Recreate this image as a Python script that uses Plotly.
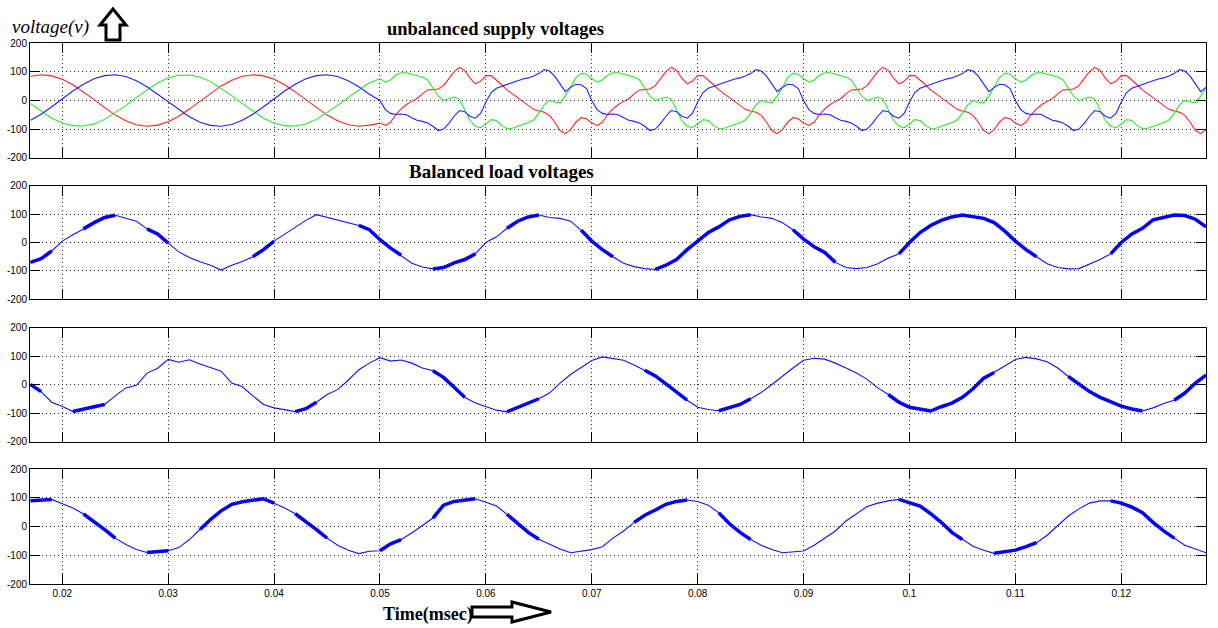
import numpy as np
import plotly.graph_objects as go

W, H = 1218, 628

# ---------------- time bases ----------------
T_BAL = np.round(np.arange(0.017, 0.0495, 0.001), 4)      # 0.017 .. 0.049 (33)
T_UNB = np.round(np.arange(0.050, 0.12825, 0.0005), 4)    # 0.050 .. 0.128 (157)
T_LOAD = np.round(np.arange(0.017, 0.12805, 0.001), 4)    # 0.017 .. 0.128 (112)

# ---------------- top plot: supply voltages ----------------
RED_BAL = [85, 90, 86, 74, 55, 30, 3, -25, -51, -71,
           -85, -90, -86, -74, -55, -30, -3, 25, 51, 71,
           85, 90, 86, 74, 55, 30, 3, -25, -51, -71,
           -85, -90, -86]
BLUE_BAL = [-69, -48, -22, 6, 33, 57, 76, 87, 90, 84,
            69, 48, 22, -6, -33, -57, -76, -87, -90, -84,
            -69, -48, -22, 6, 33, 57, 76, 87, 90, 84,
            69, 48, 22]
GREEN_BAL = [-11, -38, -62, -79, -88, -89, -82, -66, -43, -17,
             11, 38, 62, 79, 88, 89, 82, 66, 43, 17,
             -11, -38, -62, -79, -88, -89, -82, -66, -43, -17,
             11, 38, 62]

RED_UNB = [
    -79, -87, -76, -49, -29, -14, -3, 6, 23, 37, 38, 40, 52, 76, 101, 116, 105, 78, 58, 67,
    87, 87, 72, 55, 37, 23, 9, -3, -17, -31, -37, -41, -52, -76, -105, -116, -102, -76, -60, -64,
    -79, -87, -76, -49, -29, -14, -3, 6, 23, 37, 38, 40, 52, 76, 101, 116, 105, 78, 58, 67,
    87, 87, 72, 55, 37, 23, 9, -3, -17, -31, -37, -41, -52, -76, -105, -116, -102, -76, -60, -64,
    -79, -87, -76, -49, -29, -14, -3, 6, 23, 37, 38, 40, 52, 76, 101, 116, 105, 78, 58, 67,
    87, 87, 72, 55, 37, 23, 9, -3, -17, -31, -37, -41, -52, -76, -105, -116, -102, -76, -60, -64,
    -79, -87, -76, -49, -29, -14, -3, 6, 23, 37, 38, 40, 52, 76, 101, 116, 105, 78, 58, 67,
    87, 87, 72, 55, 37, 23, 9, -3, -17, -31, -37, -41, -52, -76, -105, -116, -102,
]
BLUE_UNB = [
    0, -32, -45, -49, -47, -50, -60, -69, -73, -79, -90, -105, -100, -80, -55, -35, -39, -55, -62, -45,
    -5, 28, 43, 50, 57, 62, 69, 75, 79, 86, 94, 108, 103, 85, 57, 31, 46, 57, 55, 42,
    0, -32, -45, -49, -47, -50, -60, -69, -73, -79, -90, -105, -100, -80, -55, -35, -39, -55, -62, -45,
    -5, 28, 43, 50, 57, 62, 69, 75, 79, 86, 94, 108, 103, 85, 57, 31, 46, 57, 55, 42,
    0, -32, -45, -49, -47, -50, -60, -69, -73, -79, -90, -105, -100, -80, -55, -35, -39, -55, -62, -45,
    -5, 28, 43, 50, 57, 62, 69, 75, 79, 86, 94, 108, 103, 85, 57, 31, 46, 57, 55, 42,
    0, -32, -45, -49, -47, -50, -60, -69, -73, -79, -90, -105, -100, -80, -55, -35, -39, -55, -62, -45,
    -5, 28, 43, 50, 57, 62, 69, 75, 79, 86, 94, 108, 103, 85, 57, 31, 46,
]
GREEN_UNB = [
    76, 64, 72, 88, 97, 97, 92, 88, 82, 72, 45, 15, 0, 5, 12, 5, -30, -70, -90, -95,
    -82, -67, -70, -88, -98, -97, -90, -83, -78, -68, -45, -15, 0, -5, -8, 15, 45, 80, 95, 92,
    76, 64, 72, 88, 97, 97, 92, 88, 82, 72, 45, 15, 0, 5, 12, 5, -30, -70, -90, -95,
    -82, -67, -70, -88, -98, -97, -90, -83, -78, -68, -45, -15, 0, -5, -8, 15, 45, 80, 95, 92,
    76, 64, 72, 88, 97, 97, 92, 88, 82, 72, 45, 15, 0, 5, 12, 5, -30, -70, -90, -95,
    -82, -67, -70, -88, -98, -97, -90, -83, -78, -68, -45, -15, 0, -5, -8, 15, 45, 80, 95, 92,
    76, 64, 72, 88, 97, 97, 92, 88, 82, 72, 45, 15, 0, 5, 12, 5, -30, -70, -90, -95,
    -82, -67, -70, -88, -98, -97, -90, -83, -78, -68, -45, -15, 0, -5, -8, 15, 45,
]

# ---------------- balanced load voltages ----------------
LOAD_A = [-70, -57, -30, 5, 27, 48, 70, 88, 96, 86,
          75, 48, 30, -2, -33, -53, -68, -80, -97, -80,
          -67, -50, -25, 5, 30, 55, 78, 98, 88, 80,
          70, 60, 45, 10, -20, -45, -73, -86, -93, -88,
          -72, -60, -40, 0, 20, 50, 75, 90, 97, 88,
          85, 75, 43, 5, -25, -50, -73, -85, -92, -95,
          -80, -60, -25, 5, 35, 55, 80, 92, 98, 90,
          85, 70, 45, 12, -15, -35, -70, -88, -92, -88,
          -75, -55, -40, 0, 35, 60, 78, 90, 97, 92,
          85, 70, 40, 5, -25, -50, -75, -88, -93, -92,
          -75, -60, -40, 0, 30, 50, 80, 90, 97, 95,
          82, 55]
LOAD_B = [0, -25, -62, -77, -95, -88, -78, -70, -40, -12,
          -3, 40, 57, 88, 78, 87, 72, 60, 47, 5,
          -8, -40, -70, -82, -88, -95, -85, -62, -35, -18,
          15, 52, 75, 94, 82, 86, 75, 58, 48, 25,
          -10, -45, -65, -77, -90, -96, -80, -65, -50, -30,
          5, 35, 60, 84, 97, 92, 85, 68, 50, 30,
          2, -27, -55, -80, -88, -92, -80, -70, -50, -28,
          0, 30, 58, 85, 92, 89, 75, 58, 40, 18,
          -12, -35, -62, -80, -88, -93, -78, -65, -45, -15,
          22, 42, 65, 88, 95, 90, 80, 58, 28, 3,
          -25, -45, -62, -76, -86, -93, -82, -67, -55, -30,
          5, 33]
LOAD_C = [90, 92, 95, 80, 65, 44, 18, -10, -40, -62,
          -80, -90, -88, -84, -73, -45, -10, 25, 55, 78,
          87, 92, 97, 82, 65, 45, 18, -10, -40, -65,
          -82, -94, -86, -84, -60, -45, -22, 5, 30, 75,
          88, 93, 97, 85, 72, 43, 10, -20, -44, -62,
          -78, -91, -85, -80, -70, -40, -15, 15, 40, 58,
          78, 88, 93, 88, 75, 48, 10, -20, -45, -65,
          -80, -91, -88, -85, -65, -40, -15, 20, 45, 70,
          82, 90, 95, 85, 72, 45, 15, -20, -45, -68,
          -82, -93, -88, -82, -70, -56, -30, 5, 37, 62,
          82, 90, 90, 82, 68, 49, 15, -15, -40, -65,
          -78, -91]

# time intervals where the load waveforms show a thick switching-noise band
THICK_A = [(0.017, 0.019), (0.022, 0.025), (0.028, 0.030), (0.038, 0.040), (0.048, 0.052),
           (0.055, 0.059), (0.062, 0.065), (0.069, 0.072), (0.076, 0.082), (0.083, 0.085),
           (0.089, 0.093), (0.099, 0.108), (0.109, 0.112), (0.119, 0.128)]
THICK_B = [(0.017, 0.018), (0.021, 0.024), (0.042, 0.044), (0.055, 0.058), (0.062, 0.065),
           (0.075, 0.079), (0.082, 0.085), (0.098, 0.102), (0.103, 0.105), (0.106, 0.108),
           (0.115, 0.122), (0.125, 0.128)]
THICK_C = [(0.017, 0.019), (0.022, 0.025), (0.028, 0.030), (0.033, 0.037), (0.038, 0.040),
           (0.042, 0.045), (0.050, 0.052), (0.055, 0.059), (0.062, 0.065), (0.074, 0.079),
           (0.082, 0.085), (0.099, 0.105), (0.108, 0.112), (0.119, 0.125)]

X_TICKS = [0.02, 0.03, 0.04, 0.05, 0.06, 0.07, 0.08, 0.09, 0.10, 0.11, 0.12]
X_TICK_TEXT = ["0.02", "0.03", "0.04", "0.05", "0.06", "0.07", "0.08", "0.09", "0.1", "0.11", "0.12"]
Y_TICKS = [-200, -100, 0, 100, 200]
Y_TICK_TEXT = ["-200", "-100", "0", "100", "200"]

assert len(T_BAL) == len(RED_BAL) == len(BLUE_BAL) == len(GREEN_BAL)
assert len(T_UNB) == len(RED_UNB) == len(BLUE_UNB) == len(GREEN_UNB)
assert len(T_LOAD) == len(LOAD_A) == len(LOAD_B) == len(LOAD_C)

# ---------------- figure ----------------
fig = go.Figure()
t_top = list(T_BAL) + list(T_UNB)
for vals_b, vals_u, col in [(RED_BAL, RED_UNB, "#ff2020"),
                            (GREEN_BAL, GREEN_UNB, "#20ee20"),
                            (BLUE_BAL, BLUE_UNB, "#2020ff")]:
    fig.add_trace(go.Scatter(x=t_top, y=list(vals_b) + list(vals_u), mode="lines",
                             line=dict(color=col, width=1.1), xaxis="x", yaxis="y",
                             showlegend=False, hoverinfo="skip"))


def thick_mask(vals, intervals):
    out = []
    for t, v in zip(T_LOAD, vals):
        inside = any(a - 1e-9 <= t <= b + 1e-9 for a, b in intervals)
        out.append(v if inside else None)
    return out


for k, (vals, thick) in enumerate([(LOAD_A, THICK_A), (LOAD_B, THICK_B), (LOAD_C, THICK_C)], start=2):
    fig.add_trace(go.Scatter(x=list(T_LOAD), y=vals, mode="lines",
                             line=dict(color="#1010ff", width=1.1),
                             xaxis=f"x{k}", yaxis=f"y{k}", showlegend=False, hoverinfo="skip"))
    fig.add_trace(go.Scatter(x=list(T_LOAD), y=thick_mask(vals, thick), mode="lines",
                             line=dict(color="#0000ff", width=3.5), connectgaps=False,
                             xaxis=f"x{k}", yaxis=f"y{k}", showlegend=False, hoverinfo="skip"))

# plot area pixel boxes (top, bottom)
PLOT_X = (30, 1206)
PLOT_Y = [(43.3, 157.7), (185.7, 299.3), (327.5, 441.5), (469.3, 584.0)]

tick_font = dict(family="Arial, Liberation Sans, sans-serif", size=10, color="#000")
common = dict(ticks="inside", ticklen=10, tickcolor="#000", tickwidth=1,
              showline=True, linecolor="#000", linewidth=1, mirror="ticks",
              showgrid=True, gridcolor="#333", gridwidth=1, griddash="1px,3px",
              zeroline=False, automargin=False, tickfont=tick_font, fixedrange=True)

layout = dict(width=W, height=H, autosize=False, template="none",
              paper_bgcolor="white", plot_bgcolor="white",
              margin=dict(l=0, r=0, t=0, b=0, pad=0), showlegend=False)

for i, (ytop, ybot) in enumerate(PLOT_Y, start=1):
    sfx = "" if i == 1 else str(i)
    layout[f"xaxis{sfx}"] = dict(domain=[PLOT_X[0] / W, PLOT_X[1] / W], range=[0.01695, 0.1280],
                                 anchor=f"y{sfx}", tickvals=X_TICKS, ticktext=X_TICK_TEXT,
                                 showticklabels=(i == 4), **common)
    layout[f"yaxis{sfx}"] = dict(domain=[1 - ybot / H, 1 - ytop / H], range=[-200, 200],
                                 anchor=f"x{sfx}", tickvals=Y_TICKS, ticktext=Y_TICK_TEXT,
                                 showticklabels=True, **common)

fig.update_layout(**layout)

serif = "Times New Roman, Liberation Serif, serif"


def px(x):
    return x / W


def py(y):
    return 1 - y / H


def label(text, x, y, size):
    fig.add_annotation(text=text, x=px(x), y=py(y), xref="paper", yref="paper",
                       xanchor="center", yanchor="middle", showarrow=False,
                       font=dict(family=serif, size=size, color="#000"))


label("<b>unbalanced supply voltages</b>", 495, 29, 18.5)
label("<b>Balanced load voltages</b>", 501, 172, 19)
label("<i>voltage(v)</i>", 50, 27, 19)
label("<b>Time(msec)</b>", 428, 614, 18)


def poly(points):
    return "M " + " L ".join(f"{px(x):.5f},{py(y):.5f}" for x, y in points) + " Z"


up_arrow = [(113, 9), (126, 25), (120, 25), (120, 40), (106, 40), (106, 25), (100, 25)]
right_arrow = [(472, 607), (512, 607), (512, 602), (551, 612), (512, 622), (512, 617), (472, 617)]
for pts in (up_arrow, right_arrow):
    fig.add_shape(type="path", path=poly(pts), xref="paper", yref="paper",
                  line=dict(color="#000", width=3), fillcolor="white", layer="above")

fig.write_html("out.html")
